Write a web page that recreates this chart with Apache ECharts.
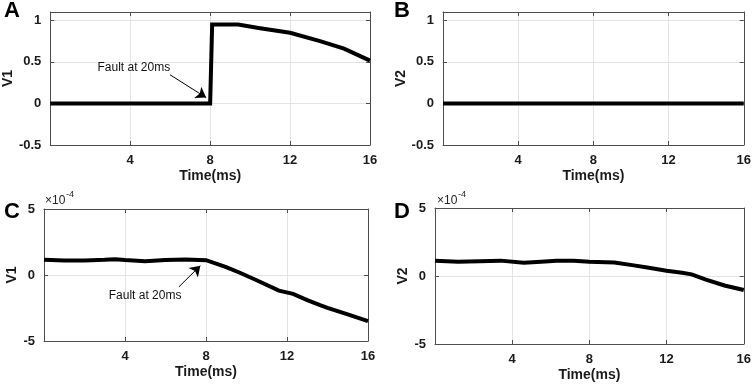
<!DOCTYPE html>
<html>
<head>
<meta charset="utf-8">
<script src="https://cdn.jsdelivr.net/npm/echarts@6/dist/echarts.min.js"></script>
<style>
    html, body { margin: 0; padding: 0; background: #fff; }
    #chart { width: 754px; height: 384px; }
</style>
</head>
<body>
<div id="chart"></div>
<script>
let chart = echarts.init(document.getElementById('chart'));

// A: V1, fault at 20ms
let time_a = [0, 8, 8.1, 9.4, 10.5, 12, 13.5, 14.7, 16];
let v1_a = [0, 0, 0.95, 0.95, 0.905, 0.85, 0.75, 0.66, 0.515];
// B: V2
let time_b = [0, 4, 8, 12, 16];
let v2_b = [0, 0, 0, 0, 0];
// C: V1 (x1e-4)
let time_c = [0, 1, 2, 3, 3.5, 4, 5, 6, 7, 8, 9, 9.7, 10.5, 11.6, 12.3, 13, 13.6, 14, 15, 16];
let v1_c = [1.15, 1.1, 1.1, 1.15, 1.2, 1.13, 1.05, 1.13, 1.18, 1.12, 0.6, 0.15, -0.4, -1.18, -1.43, -1.9, -2.27, -2.49, -2.99, -3.5];
// D: V2 (x1e-4)
let time_d = [0, 1.2, 2.3, 3.4, 4.6, 5.5, 6.3, 7.2, 8, 9.3, 10.3, 11, 12, 12.8, 13.3, 14, 15, 16];
let v2_d = [1.13, 1.04, 1.08, 1.13, 0.98, 1.05, 1.13, 1.12, 1.04, 1.0, 0.78, 0.62, 0.38, 0.24, 0.12, -0.25, -0.7, -1.03];

let x_ticks = [4, 8, 12, 16];
let y_ticks_top = [-0.5, 0, 0.5, 1];
let y_ticks_bottom = [-5, 0, 5];

const FONT = '"Liberation Sans", Arial, sans-serif';
const FRAME = '#4d4d4d';

let pairs = (xs, ys) => xs.map((x, i) => [x, ys[i]]);

let grids = [
    {left: 44, top: 12, width: 326, height: 133},
    {left: 443, top: 12, width: 304, height: 133},
    {left: 44, top: 209, width: 324, height: 132},
    {left: 435, top: 208, width: 312, height: 136},
];

let xAxes = [];
let yAxes = [];
let yNameGaps = [33, 30, 24, 19];
let yNames = ['V1', 'V2', 'V1', 'V2'];

grids.forEach((g, i) => {
    let yr = i < 2 ? {min: -0.5, max: 1.1, interval: 0.5} : {min: -5, max: 5, interval: 5};
    xAxes.push({
        type: 'value', gridIndex: i, position: 'bottom',
        min: 0, max: 16, interval: 4,
        name: 'Time(ms)', nameLocation: 'middle', nameGap: 24,
        nameTextStyle: {fontFamily: FONT, fontWeight: 'bold', fontSize: 14, color: '#1a1a1a'},
        axisLine: {show: true, onZero: false, lineStyle: {color: FRAME}},
        axisTick: {show: true, inside: true, length: 4, lineStyle: {color: FRAME}},
        axisLabel: {
            fontFamily: FONT, fontWeight: 'bold', fontSize: 13, color: '#1a1a1a', margin: 9,
            showMinLabel: false,
            formatter: v => x_ticks.indexOf(v) >= 0 ? String(v) : ''
        },
        splitLine: {show: true, lineStyle: {color: '#e3e3e3'}}
    });
    xAxes.push({
        type: 'value', gridIndex: i, position: 'top',
        min: 0, max: 16, interval: 4,
        axisLine: {show: true, onZero: false, lineStyle: {color: FRAME}},
        axisTick: {show: true, inside: true, length: 4, lineStyle: {color: FRAME}},
        axisLabel: {show: false},
        splitLine: {show: false}
    });
    let ticks = i < 2 ? y_ticks_top : y_ticks_bottom;
    yAxes.push(Object.assign({
        type: 'value', gridIndex: i, position: 'left',
        name: yNames[i], nameLocation: 'middle', nameGap: yNameGaps[i],
        nameTextStyle: {fontFamily: FONT, fontWeight: 'bold', fontSize: 14, color: '#1a1a1a'},
        axisLine: {show: true, onZero: false, lineStyle: {color: FRAME}},
        axisTick: {show: true, inside: true, length: 4, lineStyle: {color: FRAME}},
        axisLabel: {
            fontFamily: FONT, fontWeight: 'bold', fontSize: 13, color: '#1a1a1a', margin: 9,
            formatter: v => ticks.some(t => Math.abs(t - v) < 1e-9) ? String(v) : ''
        },
        splitLine: {show: true, lineStyle: {color: '#e3e3e3'}}
    }, yr));
    yAxes.push(Object.assign({
        type: 'value', gridIndex: i, position: 'right',
        axisLine: {show: true, onZero: false, lineStyle: {color: FRAME}},
        axisTick: {show: true, inside: true, length: 4, lineStyle: {color: FRAME}},
        axisLabel: {show: false},
        splitLine: {show: false}
    }, yr));
});

let lineSeries = (idx, xs, ys, extra) => Object.assign({
    type: 'line',
    xAxisIndex: idx * 2,
    yAxisIndex: idx * 2,
    data: pairs(xs, ys),
    showSymbol: false,
    symbol: 'none',
    lineStyle: {color: '#000', width: 4, join: 'miter'},
    z: 5
}, extra || {});

let faultNote = (textAt, from, to) => ({
    markLine: {
        silent: true,
        symbol: ['none', 'arrow'],
        symbolSize: 10,
        label: {show: false},
        lineStyle: {color: '#000', width: 1, type: 'solid'},
        data: [[{coord: from}, {coord: to}]]
    },
    markPoint: {
        silent: true,
        symbol: 'circle',
        symbolSize: 1,
        itemStyle: {color: 'rgba(0,0,0,0)'},
        label: {
            show: true, position: 'inside', formatter: 'Fault at 20ms',
            fontFamily: FONT, fontSize: 12, color: '#111'
        },
        data: [{coord: textAt}]
    }
});

let letterStyle = {fontFamily: FONT, fontWeight: 'bold', fontSize: 22, fill: '#000'};
let expStyle = {fontFamily: FONT, fontSize: 12, fill: '#222'};
let supStyle = {fontFamily: FONT, fontSize: 9, fill: '#222'};

let option = {
    animation: false,
    grid: grids,
    xAxis: xAxes,
    yAxis: yAxes,
    series: [
        lineSeries(0, time_a, v1_a, faultNote([4.18, 0.43], [5.99, 0.345], [7.8, 0.07])),
        lineSeries(1, time_b, v2_b),
        lineSeries(2, time_c, v1_c, faultNote([4.99, -1.53], [6.66, -0.9], [7.72, 0.71])),
        lineSeries(3, time_d, v2_d)
    ],
    graphic: [
        {type: 'text', left: 4, top: 0, style: Object.assign({text: 'A'}, letterStyle)},
        {type: 'text', left: 394, top: 0, style: Object.assign({text: 'B'}, letterStyle)},
        {type: 'text', left: 4, top: 201, style: Object.assign({text: 'C'}, letterStyle)},
        {type: 'text', left: 394, top: 201, style: Object.assign({text: 'D'}, letterStyle)},
        {type: 'text', left: 45, top: 195, style: Object.assign({text: '×10'}, expStyle)},
        {type: 'text', left: 66, top: 190, style: Object.assign({text: '-4'}, supStyle)},
        {type: 'text', left: 437, top: 195, style: Object.assign({text: '×10'}, expStyle)},
        {type: 'text', left: 458, top: 190, style: Object.assign({text: '-4'}, supStyle)}
    ]
};

chart.setOption(option);
</script>
</body>
</html>
